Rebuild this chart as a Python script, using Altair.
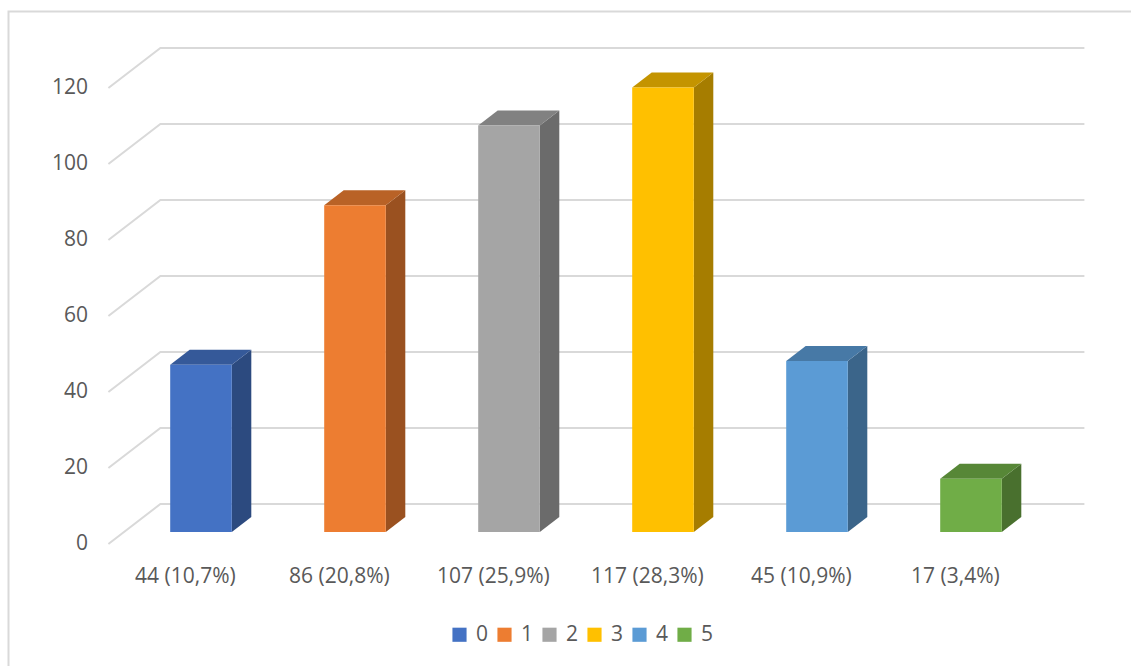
import altair as alt
import pandas as pd

# ---------------- data ----------------
categories = ["0", "1", "2", "3", "4", "5"]
values = [44, 86, 107, 117, 45, 14]
bar_labels = ["44 (10,7%)", "86 (20,8%)", "107 (25,9%)", "117 (28,3%)", "45 (10,9%)", "17 (3,4%)"]
front_colors = ["#4472C4", "#ED7D31", "#A5A5A5", "#FFC000", "#5B9BD5", "#70AD47"]
top_colors = ["#355999", "#B96226", "#818181", "#C49400", "#4779A6", "#578737"]
side_colors = ["#2C4A7F", "#9A5120", "#6B6B6B", "#A67D00", "#3B658A", "#49702E"]
y_ticks = [0, 20, 40, 60, 80, 100, 120]

# ---------------- geometry (style) ----------------
W, H = 924, 456
N = len(categories)
Y_MAX = 120
PX_X = W / N
PX_Y = H / Y_MAX
BAR_HALF = 0.2
DEPTH_DX, DEPTH_DY = 19.5 / PX_X, 15 / PX_Y      # bar depth
BACK_DX, BACK_DY = 36.4 / PX_X, 28 / PX_Y        # back wall
FRONT_DX, FRONT_DY = -15.6 / PX_X, -12 / PX_Y    # front edge of floor
TEXT = "#595959"
FONT = "Open Sans"
GRID = "#D9D9D9"
FS = 21

xs = alt.Scale(domain=[0, N], nice=False, zero=False)
ys = alt.Scale(domain=[0, Y_MAX], nice=False, zero=False)

front = pd.DataFrame({
    "cat": categories,
    "xl": [i + 0.5 - BAR_HALF for i in range(N)],
    "xr": [i + 0.5 + BAR_HALF for i in range(N)],
    "base": [0] * N,
    "v": values,
})

side_rows, top_rows = [], []
for i, (c, v) in enumerate(zip(categories, values)):
    xl, xr = i + 0.5 - BAR_HALF, i + 0.5 + BAR_HALF
    side_rows.append({"cat": c, "x": xr, "y0": 0, "y1": v, "col": side_colors[i]})
    side_rows.append({"cat": c, "x": xr + DEPTH_DX, "y0": DEPTH_DY, "y1": v + DEPTH_DY, "col": side_colors[i]})
    top_rows.append({"cat": c, "y": v, "x0": xl, "x1": xr, "col": top_colors[i]})
    top_rows.append({"cat": c, "y": v + DEPTH_DY, "x0": xl + DEPTH_DX, "x1": xr + DEPTH_DX, "col": top_colors[i]})
side = pd.DataFrame(side_rows)
top = pd.DataFrame(top_rows)

grid_rows = []
for t in y_ticks:
    grid_rows.append({"t": t, "o": 0, "x": FRONT_DX, "y": t + FRONT_DY})
    grid_rows.append({"t": t, "o": 1, "x": BACK_DX, "y": t + BACK_DY})
    grid_rows.append({"t": t, "o": 2, "x": N + BACK_DX, "y": t + BACK_DY})
grid = pd.DataFrame(grid_rows)

xlab = pd.DataFrame({"x": [i + 0.5 for i in range(N)], "y": [0] * N, "label": bar_labels})
ylab = pd.DataFrame({"x": [0] * len(y_ticks), "t": y_ticks, "label": [str(t) for t in y_ticks]})

# ---------------- layers ----------------
border = alt.Chart(pd.DataFrame({"a": [0]})).mark_rect(
    fill="white", fillOpacity=0, stroke=GRID, strokeWidth=2
).encode(x=alt.value(-115.5), y=alt.value(-64.5), x2=alt.value(1140), y2=alt.value(700))

grid_layer = alt.Chart(grid).mark_line(color=GRID, strokeWidth=2).encode(
    x=alt.X("x:Q", scale=xs, axis=None),
    y=alt.Y("y:Q", scale=ys, axis=None),
    detail="t:N",
    order="o:Q",
)

side_layer = alt.Chart(side).mark_area(opacity=1).encode(
    x=alt.X("x:Q", scale=xs, axis=None),
    y=alt.Y("y0:Q", scale=ys, axis=None),
    y2="y1:Q",
    detail="cat:N",
    color=alt.Color("col:N", scale=None),
)

top_layer = alt.Chart(top).mark_area(orient="horizontal", opacity=1).encode(
    y=alt.Y("y:Q", scale=ys, axis=None),
    x=alt.X("x0:Q", scale=xs, axis=None),
    x2="x1:Q",
    detail="cat:N",
    color=alt.Color("col:N", scale=None),
)

front_layer = alt.Chart(front).mark_rect().encode(
    x=alt.X("xl:Q", scale=xs, axis=None),
    x2="xr:Q",
    y=alt.Y("base:Q", scale=ys, axis=None),
    y2="v:Q",
    color=alt.Color(
        "cat:N",
        scale=alt.Scale(domain=categories, range=front_colors),
        legend=alt.Legend(
            orient="none", legendX=325, legendY=548, direction="horizontal",
            title=None, symbolType="square", symbolSize=200, symbolStrokeWidth=0,
            labelFontSize=FS, labelColor=TEXT, labelFont=FONT, labelOffset=6,
            columnPadding=5, padding=0,
        ),
    ),
)

xlab_layer = alt.Chart(xlab).mark_text(
    fontSize=FS, font=FONT, color=TEXT, align="center", baseline="middle",
    dx=-15.6, dy=45,
).encode(
    x=alt.X("x:Q", scale=xs, axis=None),
    y=alt.Y("y:Q", scale=ys, axis=None),
    text="label:N",
)

ylab_layer = alt.Chart(ylab).mark_text(
    fontSize=FS, font=FONT, color=TEXT, align="right", baseline="middle",
    dx=-36, dy=12,
).encode(
    x=alt.X("x:Q", scale=xs, axis=None),
    y=alt.Y("t:Q", scale=ys, axis=None),
    text="label:N",
)

chart = alt.layer(
    border, grid_layer, side_layer, top_layer, front_layer, xlab_layer, ylab_layer
).properties(
    width=W, height=H,
    padding={"left": 124, "top": 76, "right": 83, "bottom": 134},
    autosize=alt.AutoSizeParams(type="none"),
    background="white",
).configure_view(stroke=None)

chart.save("out.html", embed_options={"renderer": "svg", "actions": False})
